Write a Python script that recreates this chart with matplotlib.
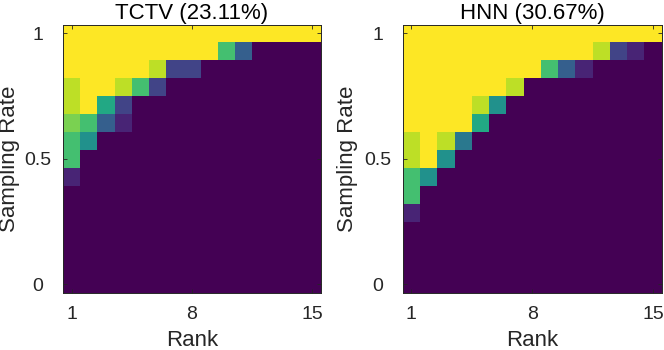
import numpy as np
import matplotlib
matplotlib.use("Agg")
import matplotlib.pyplot as plt

plt.rcParams["font.family"] = ["Liberation Sans", "DejaVu Sans"]

ranks = [1, 2, 3, 4, 5, 6, 7, 8, 9, 10, 11, 12, 13, 14, 15]
# sampling rates, top row first
rates = [1.0, 0.9286, 0.8571, 0.7857, 0.7143, 0.6429, 0.5714, 0.5,
         0.4286, 0.3571, 0.2857, 0.2143, 0.1429, 0.0714, 0.0]

# success ratios, rows from sampling rate 1 (top) to 0 (bottom)
tctv = [
    [1, 1, 1, 1, 1, 1, 1, 1, 1, 1, 1, 1, 1, 1, 1],
    [1, 1, 1, 1, 1, 1, 1, 1, 1, .7, .3, 0, 0, 0, 0],
    [1, 1, 1, 1, 1, .9, .2, .2, 0, 0, 0, 0, 0, 0, 0],
    [.9, 1, 1, .9, .7, .2, 0, 0, 0, 0, 0, 0, 0, 0, 0],
    [.9, 1, .6, .2, 0, 0, 0, 0, 0, 0, 0, 0, 0, 0, 0],
    [.8, .7, .3, .1, 0, 0, 0, 0, 0, 0, 0, 0, 0, 0, 0],
    [.7, .5, 0, 0, 0, 0, 0, 0, 0, 0, 0, 0, 0, 0, 0],
    [.7, 0, 0, 0, 0, 0, 0, 0, 0, 0, 0, 0, 0, 0, 0],
    [.1, 0, 0, 0, 0, 0, 0, 0, 0, 0, 0, 0, 0, 0, 0],
    [0, 0, 0, 0, 0, 0, 0, 0, 0, 0, 0, 0, 0, 0, 0],
    [0, 0, 0, 0, 0, 0, 0, 0, 0, 0, 0, 0, 0, 0, 0],
    [0, 0, 0, 0, 0, 0, 0, 0, 0, 0, 0, 0, 0, 0, 0],
    [0, 0, 0, 0, 0, 0, 0, 0, 0, 0, 0, 0, 0, 0, 0],
    [0, 0, 0, 0, 0, 0, 0, 0, 0, 0, 0, 0, 0, 0, 0],
    [0, 0, 0, 0, 0, 0, 0, 0, 0, 0, 0, 0, 0, 0, 0],
]

hnn = [
    [1, 1, 1, 1, 1, 1, 1, 1, 1, 1, 1, 1, 1, 1, 1],
    [1, 1, 1, 1, 1, 1, 1, 1, 1, 1, 1, .9, .2, .1, 0],
    [1, 1, 1, 1, 1, 1, 1, 1, .7, .3, .1, 0, 0, 0, 0],
    [1, 1, 1, 1, 1, 1, .9, 0, 0, 0, 0, 0, 0, 0, 0],
    [1, 1, 1, 1, .9, .5, 0, 0, 0, 0, 0, 0, 0, 0, 0],
    [1, 1, 1, 1, .6, 0, 0, 0, 0, 0, 0, 0, 0, 0, 0],
    [.9, 1, .9, .4, 0, 0, 0, 0, 0, 0, 0, 0, 0, 0, 0],
    [.9, 1, .5, 0, 0, 0, 0, 0, 0, 0, 0, 0, 0, 0, 0],
    [.7, .5, 0, 0, 0, 0, 0, 0, 0, 0, 0, 0, 0, 0, 0],
    [.7, 0, 0, 0, 0, 0, 0, 0, 0, 0, 0, 0, 0, 0, 0],
    [.1, 0, 0, 0, 0, 0, 0, 0, 0, 0, 0, 0, 0, 0, 0],
    [0, 0, 0, 0, 0, 0, 0, 0, 0, 0, 0, 0, 0, 0, 0],
    [0, 0, 0, 0, 0, 0, 0, 0, 0, 0, 0, 0, 0, 0, 0],
    [0, 0, 0, 0, 0, 0, 0, 0, 0, 0, 0, 0, 0, 0, 0],
    [0, 0, 0, 0, 0, 0, 0, 0, 0, 0, 0, 0, 0, 0, 0],
]

titles = ["TCTV (23.11%)", "HNN (30.67%)"]
x_ticks = [1, 8, 15]
y_ticks = [0, 0.5, 1]
y_ticklabels = ["0", "0.5", "1"]

text_color = "#262626"
fig = plt.figure(figsize=(6.64, 3.5), dpi=100)
positions = [
    [63 / 664, 56.7 / 350, 258 / 664, 268.8 / 350],
    [402.7 / 664, 56.7 / 350, 259 / 664, 268.8 / 350],
]
ylabel_x = [-43 / 258, -45 / 259]

for pos, data, title, lx in zip(positions, [tctv, hnn], titles, ylabel_x):
    ax = fig.add_axes(pos)
    ax.pcolormesh(ranks, rates, np.array(data), cmap="viridis",
                  vmin=0, vmax=1, shading="nearest")
    ax.set_xlim(0.5, 15.5)
    ax.set_ylim(-1 / 28, 1 + 1 / 28)
    ax.set_xticks(x_ticks)
    ax.set_yticks(y_ticks)
    ax.set_yticklabels(y_ticklabels)
    ax.tick_params(axis="both", direction="in", length=3, width=0.6,
                   top=True, right=True, colors=text_color, labelsize=14)
    ax.tick_params(axis="x", pad=9)
    ax.tick_params(axis="y", pad=18)
    for lbl in ax.get_yticklabels():
        lbl.set_horizontalalignment("center")
    for s in ax.spines.values():
        s.set_color(text_color)
        s.set_linewidth(0.7)
    ax.set_title(title, fontsize=16, color="black", pad=4)
    ax.set_xlabel("Rank", fontsize=16, color=text_color, labelpad=5)
    ax.set_ylabel("Sampling Rate", fontsize=16, color=text_color)
    ax.yaxis.set_label_coords(lx, 0.5)

fig.savefig("out.png", dpi=100)
